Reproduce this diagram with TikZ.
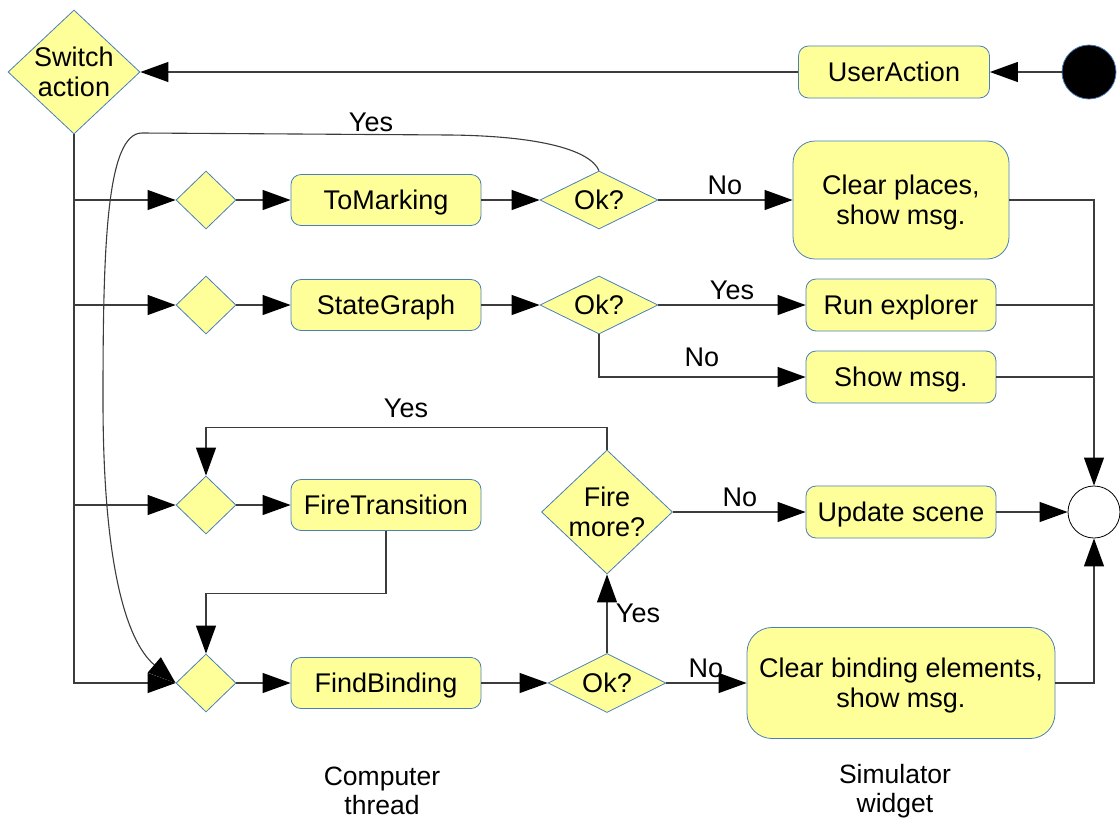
\documentclass[tikz,border=0pt]{standalone}
\usepackage{fontspec}
\setmainfont{Liberation Sans}
\usetikzlibrary{shapes.geometric,arrows.meta}
\definecolor{yel}{HTML}{FFFF99}
\definecolor{bord}{HTML}{4A7EBB}
\definecolor{lncol}{HTML}{3C3C3C}
\begin{document}
\begin{tikzpicture}[x=1pt,y=-1pt,
  every node/.style={font=\fontsize{27}{30}\selectfont},
  dia/.style={shape=diamond, draw=bord, fill=yel, line width=0.8pt, inner sep=0pt},
  box/.style={draw=bord, fill=yel, line width=0.8pt, rounded corners=10pt, inner sep=0pt, align=center, text depth=0pt},
  arr/.style={draw=lncol, line width=1.1pt, -{Triangle[length=28pt,width=20pt,color=black]}},
  conn/.style={draw=lncol, line width=1.1pt},
  lbl/.style={inner sep=0pt}]
\useasboundingbox (0,0) rectangle (1120,823);

% nodes
\node[dia, minimum width=132pt, minimum height=124pt, label={[align=center]center:Switch\\action}] (sw) at (74,72) {};
\node[box, minimum width=191pt, minimum height=52pt] (ua) at (894,72) {UserAction};
\node[circle, fill=black, draw=bord, line width=0.8pt, minimum size=54pt, inner sep=0pt] (start) at (1089,72) {};

\node[dia, minimum width=60pt, minimum height=58pt] (d1) at (206,200) {};
\node[dia, minimum width=60pt, minimum height=58pt] (d2) at (206,305) {};
\node[dia, minimum width=60pt, minimum height=58pt] (d3) at (206,505) {};
\node[dia, minimum width=60pt, minimum height=58pt] (d4) at (206,683) {};

\node[box, minimum width=190pt, minimum height=51pt] (tm) at (386,200) {ToMarking};
\node[box, minimum width=190pt, minimum height=51pt] (sg) at (386,305) {StateGraph};
\node[box, minimum width=190pt, minimum height=51pt] (ft) at (386,505) {FireTransition};
\node[box, minimum width=190pt, minimum height=51pt] (fb) at (386,683) {FindBinding};

\node[dia, minimum width=118pt, minimum height=58pt, label=center:{Ok?}] (ok1) at (599,200) {};
\node[dia, minimum width=118pt, minimum height=58pt, label=center:{Ok?}] (ok2) at (599,305) {};
\node[dia, minimum width=118pt, minimum height=59pt, label=center:{Ok?}] (ok4) at (607,683) {};
\node[dia, minimum width=131pt, minimum height=124pt, label={[align=center]center:Fire\\more?}] (fm) at (607,512) {};

\node[box, rounded corners=22pt, minimum width=216pt, minimum height=118pt] (cp) at (901,200) {Clear places,\\show msg.};
\node[box, minimum width=190pt, minimum height=52pt] (re) at (901,305) {Run explorer};
\node[box, minimum width=190pt, minimum height=52pt] (sm) at (901,377) {Show msg.};
\node[box, minimum width=190pt, minimum height=52pt] (us) at (901,512) {Update scene};
\node[box, rounded corners=25pt, minimum width=308pt, minimum height=111pt] (cb) at (901,683) {Clear binding elements,\\show msg.};

\node[circle, draw=black, fill=white, line width=0.8pt, minimum size=52pt, inner sep=0pt] (end) at (1094,512) {};

\node[align=center, font=\fontsize{26.5}{29}\selectfont] (ct) at (382,791) {Computer\\thread};
\node[align=center, font=\fontsize{26.5}{29}\selectfont] (sw2) at (895,791) {Simulator\\widget};

% connectors
\draw[arr] (start) -- (ua);
\draw[arr] (ua) -- (sw);
\draw[arr] (sw.south) |- (d4.west);
\draw[arr] (sw.south |- d1.west) -- (d1.west);
\draw[arr] (sw.south |- d2.west) -- (d2.west);
\draw[arr] (sw.south |- d3.west) -- (d3.west);

\draw[arr] (d1) -- (tm);
\draw[arr] (d2) -- (sg);
\draw[arr] (d3) -- (ft);
\draw[arr] (d4) -- (fb);

\draw[arr] (tm) -- (ok1);
\draw[arr] (sg) -- (ok2);
\draw[arr] (fb) -- (ok4);

\draw[arr] (ok1) -- (cp);
\node[lbl] at (725,185) {No};
\draw[arr] (ok2) -- (re);
\node[lbl] at (732,290) {Yes};
\draw[arr] (ok2.south) |- (sm.west);
\node[lbl] at (702,357) {No};

\draw[arr] (ok1.north) .. controls (590,150) and (540,136) .. (450,135) -- (142,133) .. controls (106,133) and (103,250) .. (103,400) .. controls (103,560) and (125,640) .. (d4.west);
\node[lbl] at (371,122) {Yes};

\draw[arr] (fm.north) -- ++(0,-22) -| (d3.north);
\node[lbl] at (406,408) {Yes};
\draw[arr] (ft.south) -- ++(0,63) -| (d4.north);

\draw[arr] (ok4.north) -- (fm.south);
\node[lbl] at (638,613) {Yes};
\draw[arr] (ok4) -- (cb);
\node[lbl] at (706,668) {No};
\draw[arr] (fm) -- (us);
\node[lbl] at (740,497) {No};

\draw[arr] (cp.east) -| (end.north);
\draw[conn] (re.east) -- (re.east -| end.center);
\draw[conn] (sm.east) -- (sm.east -| end.center);
\draw[arr] (us) -- (end);
\draw[arr] (cb.east) -| (end.south);
\end{tikzpicture}
\end{document}
